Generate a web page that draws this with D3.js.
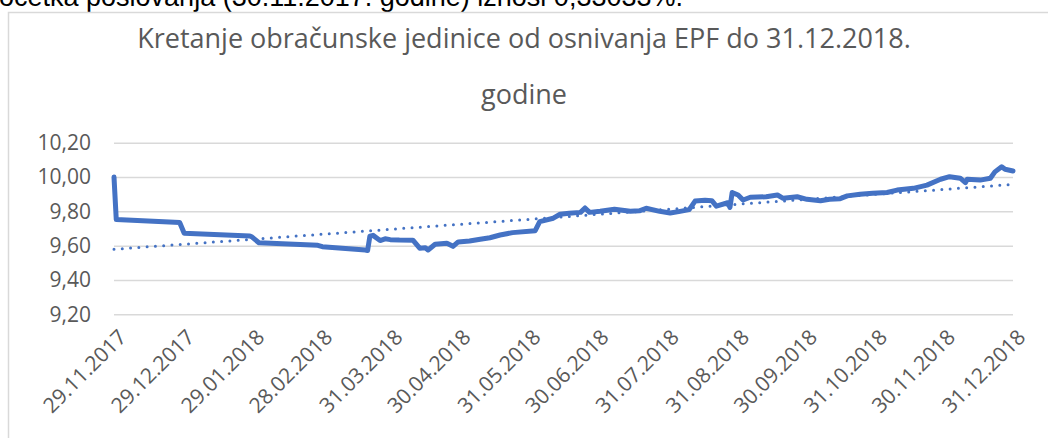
<!DOCTYPE html>
<html>
<head>
<meta charset="utf-8">
<script src="https://cdn.jsdelivr.net/npm/d3@7"></script>
<style>
  body { margin: 0; background: #fff; overflow: hidden; }
  svg { display: block; }
</style>
</head>
<body>
<svg id="chart" width="1048" height="438"></svg>
<script>
// days since 29.11.2017 and the unit value
const startDate = '29.11.2017';
const days = [0, 1, 29, 31, 60, 61, 64, 90, 92, 111, 112, 113, 114.4, 117.5, 119.7, 122, 126, 132,
  135, 137.5, 138.7, 141.8, 147, 149.7, 152, 157, 161.7, 166, 170.5, 176, 186, 188, 194, 197,
  201, 206, 208, 210, 214.7, 221, 228, 232, 235, 241, 245.6, 250, 254, 256.6, 261, 264, 266,
  271, 272, 273, 275.6, 277.8, 281, 288, 293, 295.5, 301.7, 306, 312, 316, 320.7, 323.8, 329.5,
  335, 341.4, 345.8, 353, 359, 365, 369, 373.7, 376, 376.8, 382.5, 387, 389, 392, 393.5, 397];
const values = [10.00, 9.752, 9.735, 9.672, 9.656, 9.650, 9.617, 9.602, 9.594, 9.575, 9.572, 9.655, 9.660, 9.630, 9.640, 9.635, 9.633, 9.632,
  9.585, 9.588, 9.575, 9.608, 9.614, 9.596, 9.622, 9.627, 9.637, 9.646, 9.662, 9.676, 9.687, 9.740, 9.760, 9.783,
  9.789, 9.794, 9.820, 9.794, 9.800, 9.812, 9.800, 9.803, 9.818, 9.800, 9.790, 9.800, 9.810, 9.860, 9.865, 9.862, 9.830,
  9.850, 9.823, 9.910, 9.895, 9.866, 9.882, 9.885, 9.895, 9.876, 9.885, 9.870, 9.862, 9.870, 9.874, 9.890, 9.900,
  9.905, 9.910, 9.924, 9.934, 9.953, 9.987, 10.002, 9.993, 9.967, 9.987, 9.982, 9.993, 10.030, 10.060, 10.045, 10.035];

// linear trend, start and end value
const trendValues = [9.579, 9.957];

const tickLabels = ['29.11.2017', '29.12.2017', '29.01.2018', '28.02.2018', '31.03.2018', '30.04.2018',
  '31.05.2018', '30.06.2018', '31.07.2018', '31.08.2018', '30.09.2018', '31.10.2018', '30.11.2018', '31.12.2018'];
const yTicks = [9.2, 9.4, 9.6, 9.8, 10.0, 10.2];

const titleLines = ['Kretanje obračunske jedinice od osnivanja EPF do 31.12.2018.', 'godine'];
const aboveText = 'očetka poslovanja (30.11.2017. godine) iznosi 0,33033%.';

let svg = d3.select('#chart');
let width = 1048;
let margin = { left: 114, right: 35, top: 142.7, bottom: 314.3 };
let mainColor = '#4472C4';
let textColor = '#595959';
let font = "'Open Sans', 'Noto Sans', sans-serif";

let parse = d3.timeParse('%d.%m.%Y');
let t0 = parse(startDate);
let data = days.map((d, i) => {
  return { date: new Date(t0.getTime() + d * 864e5), value: values[i] };
});

let x = d3.scaleTime()
  .domain([t0, parse(tickLabels[tickLabels.length - 1])])
  .range([margin.left, width - margin.right]);

let y = d3.scaleLinear()
  .domain([9.2, 10.2])
  .range([margin.bottom, margin.top]);

// text of the page above the chart, cut by the crop
svg.append('text')
  .attr('x', -1)
  .attr('y', 6)
  .style('font-family', "'Liberation Sans', Arial, sans-serif")
  .style('font-size', '27px')
  .attr('fill', '#000')
  .text(aboveText);

// chart frame
svg.append('rect')
  .attr('x', 8.5)
  .attr('y', 12.5)
  .attr('width', 1060)
  .attr('height', 440)
  .attr('fill', '#fff')
  .attr('stroke', '#d9d9d9')
  .attr('stroke-width', 1.5);

// title
svg.append('g').selectAll('text')
  .data(titleLines)
  .enter().append('text')
  .attr('x', 524)
  .attr('y', (d, i) => 48 + i * 56)
  .attr('text-anchor', 'middle')
  .style('font-family', font)
  .style('font-size', '27px')
  .attr('fill', textColor)
  .text((d) => d);

// gridlines + y labels
let yAxis = d3.axisLeft(y)
  .tickValues(yTicks)
  .tickSize(-(width - margin.right - margin.left))
  .tickFormat((d) => d3.format('.2f')(d).replace('.', ','));

let gy = svg.append('g')
  .attr('transform', `translate(${margin.left},0)`)
  .call(yAxis);
gy.select('.domain').remove();
gy.selectAll('line').attr('stroke', '#d9d9d9').attr('stroke-width', 1.5);
gy.selectAll('text')
  .attr('x', -23)
  .attr('fill', textColor)
  .style('font-family', font)
  .style('font-size', '21px');

// x labels
let xAxis = d3.axisBottom(x)
  .tickValues(tickLabels.map(parse))
  .tickSize(0)
  .tickFormat(d3.timeFormat('%d.%m.%Y'));

let gx = svg.append('g')
  .attr('transform', `translate(0,${margin.bottom})`)
  .call(xAxis);
gx.select('.domain').remove();
gx.selectAll('text')
  .attr('fill', textColor)
  .style('font-family', font)
  .style('font-size', '21px')
  .attr('text-anchor', 'end')
  .attr('dy', '0.35em')
  .attr('y', 0)
  .attr('transform', 'translate(8,19) rotate(-45)');

// series
let line = d3.line()
  .x((d) => x(d.date))
  .y((d) => y(d.value));

svg.append('path')
  .datum(data)
  .attr('fill', 'none')
  .attr('stroke', mainColor)
  .attr('stroke-width', 5)
  .attr('stroke-linejoin', 'round')
  .attr('stroke-linecap', 'round')
  .attr('d', line);

// trendline
let trend = [
  { date: data[0].date, value: trendValues[0] },
  { date: data[data.length - 1].date, value: trendValues[1] }
];
svg.append('path')
  .datum(trend)
  .attr('fill', 'none')
  .attr('stroke', mainColor)
  .attr('stroke-width', 3)
  .attr('stroke-linecap', 'round')
  .attr('stroke-dasharray', '0 8.3')
  .attr('d', line);
</script>
</body>
</html>
